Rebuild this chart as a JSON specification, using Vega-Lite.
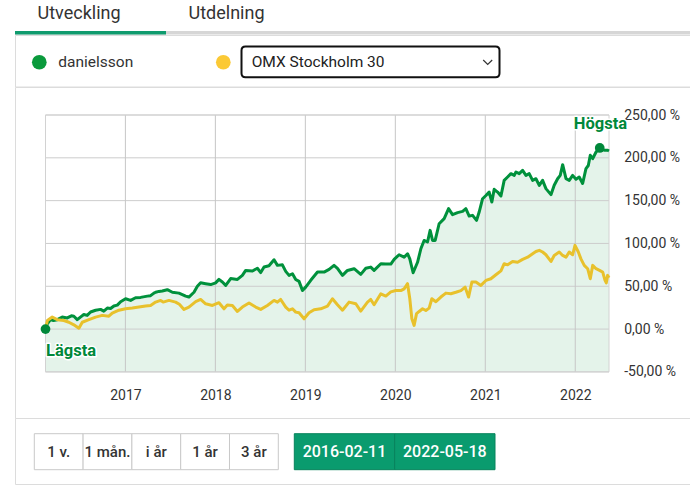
{
  "$schema": "https://vega.github.io/schema/vega-lite/v6.json",
  "padding": {"left": 14, "top": 0, "right": 0, "bottom": 0},
  "background": "white",
  "bounds": "flush",
  "spacing": 0,
  "config": {"view": {"stroke": null}, "font": "Roboto"},
  "datasets": {
    "tabs": [{"tab": "Utveckling", "active": true}, {"tab": "Utdelning", "active": false}],
    "series": [{"series": "danielsson"}, {"series": "OMX Stockholm 30"}],
    "buttons": [
      {"label": "1 v.", "group": "period"}, {"label": "1 mån.", "group": "period"}, {"label": "i år", "group": "period"},
      {"label": "1 år", "group": "period"}, {"label": "3 år", "group": "period"},
      {"label": "2016-02-11", "group": "range"}, {"label": "2022-05-18", "group": "range"}
    ],
    "markers": [{"year": 2016.112, "value": 0, "label": "Lägsta"}, {"year": 2022.272, "value": 211.5, "label": "Högsta"}],
    "ygrid": [{"value": -50}, {"value": 0}, {"value": 50}, {"value": 100}, {"value": 150}, {"value": 200}, {"value": 250}],
    "xgrid": [{"year": 2017}, {"year": 2018}, {"year": 2019}, {"year": 2020}, {"year": 2021}, {"year": 2022}],
    "perf": [
      {"series": "danielsson", "year": 2016.112, "value": 0},
      {"series": "danielsson", "year": 2016.13, "value": 6},
      {"series": "danielsson", "year": 2016.168, "value": 11},
      {"series": "danielsson", "year": 2016.2, "value": 10},
      {"series": "danielsson", "year": 2016.243, "value": 11},
      {"series": "danielsson", "year": 2016.298, "value": 14},
      {"series": "danielsson", "year": 2016.354, "value": 13},
      {"series": "danielsson", "year": 2016.4, "value": 15.5},
      {"series": "danielsson", "year": 2016.427, "value": 15},
      {"series": "danielsson", "year": 2016.465, "value": 11},
      {"series": "danielsson", "year": 2016.5, "value": 14},
      {"series": "danielsson", "year": 2016.538, "value": 17},
      {"series": "danielsson", "year": 2016.575, "value": 16},
      {"series": "danielsson", "year": 2016.613, "value": 20},
      {"series": "danielsson", "year": 2016.669, "value": 22},
      {"series": "danielsson", "year": 2016.724, "value": 23},
      {"series": "danielsson", "year": 2016.76, "value": 21},
      {"series": "danielsson", "year": 2016.799, "value": 24.5},
      {"series": "danielsson", "year": 2016.835, "value": 24},
      {"series": "danielsson", "year": 2016.872, "value": 27},
      {"series": "danielsson", "year": 2016.91, "value": 28},
      {"series": "danielsson", "year": 2016.947, "value": 32},
      {"series": "danielsson", "year": 2017.002, "value": 35.4},
      {"series": "danielsson", "year": 2017.058, "value": 33.5},
      {"series": "danielsson", "year": 2017.113, "value": 36.6},
      {"series": "danielsson", "year": 2017.169, "value": 37},
      {"series": "danielsson", "year": 2017.244, "value": 38.5},
      {"series": "danielsson", "year": 2017.28, "value": 39},
      {"series": "danielsson", "year": 2017.317, "value": 42},
      {"series": "danielsson", "year": 2017.336, "value": 43},
      {"series": "danielsson", "year": 2017.373, "value": 44},
      {"series": "danielsson", "year": 2017.41, "value": 44.4},
      {"series": "danielsson", "year": 2017.466, "value": 46},
      {"series": "danielsson", "year": 2017.522, "value": 43},
      {"series": "danielsson", "year": 2017.595, "value": 42},
      {"series": "danielsson", "year": 2017.67, "value": 38.5},
      {"series": "danielsson", "year": 2017.706, "value": 37.4},
      {"series": "danielsson", "year": 2017.762, "value": 43},
      {"series": "danielsson", "year": 2017.8, "value": 50},
      {"series": "danielsson", "year": 2017.836, "value": 54},
      {"series": "danielsson", "year": 2017.892, "value": 53},
      {"series": "danielsson", "year": 2017.948, "value": 52},
      {"series": "danielsson", "year": 2018.003, "value": 54},
      {"series": "danielsson", "year": 2018.04, "value": 58},
      {"series": "danielsson", "year": 2018.078, "value": 55},
      {"series": "danielsson", "year": 2018.115, "value": 51},
      {"series": "danielsson", "year": 2018.17, "value": 59},
      {"series": "danielsson", "year": 2018.245, "value": 58},
      {"series": "danielsson", "year": 2018.3, "value": 62.7},
      {"series": "danielsson", "year": 2018.337, "value": 68.5},
      {"series": "danielsson", "year": 2018.412, "value": 67.8},
      {"series": "danielsson", "year": 2018.467, "value": 71},
      {"series": "danielsson", "year": 2018.504, "value": 66},
      {"series": "danielsson", "year": 2018.541, "value": 72.5},
      {"series": "danielsson", "year": 2018.596, "value": 74},
      {"series": "danielsson", "year": 2018.652, "value": 81},
      {"series": "danielsson", "year": 2018.69, "value": 74.4},
      {"series": "danielsson", "year": 2018.745, "value": 75},
      {"series": "danielsson", "year": 2018.782, "value": 67.4},
      {"series": "danielsson", "year": 2018.819, "value": 62.7},
      {"series": "danielsson", "year": 2018.857, "value": 64.6},
      {"series": "danielsson", "year": 2018.893, "value": 58},
      {"series": "danielsson", "year": 2018.93, "value": 55.7},
      {"series": "danielsson", "year": 2018.968, "value": 45},
      {"series": "danielsson", "year": 2019.004, "value": 49},
      {"series": "danielsson", "year": 2019.06, "value": 57},
      {"series": "danielsson", "year": 2019.135, "value": 66.6},
      {"series": "danielsson", "year": 2019.208, "value": 66.6},
      {"series": "danielsson", "year": 2019.264, "value": 69.7},
      {"series": "danielsson", "year": 2019.319, "value": 74.4},
      {"series": "danielsson", "year": 2019.357, "value": 71},
      {"series": "danielsson", "year": 2019.413, "value": 62.7},
      {"series": "danielsson", "year": 2019.468, "value": 68.5},
      {"series": "danielsson", "year": 2019.542, "value": 70.5},
      {"series": "danielsson", "year": 2019.616, "value": 63.9},
      {"series": "danielsson", "year": 2019.672, "value": 71},
      {"series": "danielsson", "year": 2019.727, "value": 72.4},
      {"series": "danielsson", "year": 2019.764, "value": 68.5},
      {"series": "danielsson", "year": 2019.839, "value": 76.3},
      {"series": "danielsson", "year": 2019.894, "value": 76},
      {"series": "danielsson", "year": 2019.95, "value": 76},
      {"series": "danielsson", "year": 2019.987, "value": 81.4},
      {"series": "danielsson", "year": 2020.042, "value": 86.8},
      {"series": "danielsson", "year": 2020.098, "value": 84},
      {"series": "danielsson", "year": 2020.136, "value": 88},
      {"series": "danielsson", "year": 2020.161, "value": 82},
      {"series": "danielsson", "year": 2020.198, "value": 65.8},
      {"series": "danielsson", "year": 2020.247, "value": 78},
      {"series": "danielsson", "year": 2020.284, "value": 93.8},
      {"series": "danielsson", "year": 2020.32, "value": 103.5},
      {"series": "danielsson", "year": 2020.358, "value": 101.7},
      {"series": "danielsson", "year": 2020.387, "value": 115.3},
      {"series": "danielsson", "year": 2020.414, "value": 103.5},
      {"series": "danielsson", "year": 2020.443, "value": 103.5},
      {"series": "danielsson", "year": 2020.487, "value": 123},
      {"series": "danielsson", "year": 2020.543, "value": 129},
      {"series": "danielsson", "year": 2020.592, "value": 140.6},
      {"series": "danielsson", "year": 2020.636, "value": 133.6},
      {"series": "danielsson", "year": 2020.692, "value": 136},
      {"series": "danielsson", "year": 2020.748, "value": 137.5},
      {"series": "danielsson", "year": 2020.784, "value": 140.6},
      {"series": "danielsson", "year": 2020.821, "value": 132},
      {"series": "danielsson", "year": 2020.859, "value": 132.8},
      {"series": "danielsson", "year": 2020.903, "value": 127},
      {"series": "danielsson", "year": 2020.932, "value": 136.7},
      {"series": "danielsson", "year": 2020.97, "value": 152.2},
      {"series": "danielsson", "year": 2021.007, "value": 156},
      {"series": "danielsson", "year": 2021.043, "value": 160},
      {"series": "danielsson", "year": 2021.073, "value": 148.4},
      {"series": "danielsson", "year": 2021.099, "value": 163.2},
      {"series": "danielsson", "year": 2021.137, "value": 160},
      {"series": "danielsson", "year": 2021.174, "value": 155.4},
      {"series": "danielsson", "year": 2021.21, "value": 173.7},
      {"series": "danielsson", "year": 2021.248, "value": 177.6},
      {"series": "danielsson", "year": 2021.285, "value": 181.5},
      {"series": "danielsson", "year": 2021.322, "value": 179.5},
      {"series": "danielsson", "year": 2021.341, "value": 183.4},
      {"series": "danielsson", "year": 2021.377, "value": 181.5},
      {"series": "danielsson", "year": 2021.415, "value": 185.4},
      {"series": "danielsson", "year": 2021.452, "value": 179.5},
      {"series": "danielsson", "year": 2021.488, "value": 181.5},
      {"series": "danielsson", "year": 2021.526, "value": 173.7},
      {"series": "danielsson", "year": 2021.563, "value": 175.6},
      {"series": "danielsson", "year": 2021.6, "value": 167.8},
      {"series": "danielsson", "year": 2021.637, "value": 173.7},
      {"series": "danielsson", "year": 2021.674, "value": 164},
      {"series": "danielsson", "year": 2021.73, "value": 157},
      {"series": "danielsson", "year": 2021.766, "value": 168},
      {"series": "danielsson", "year": 2021.804, "value": 175.6},
      {"series": "danielsson", "year": 2021.833, "value": 179.5},
      {"series": "danielsson", "year": 2021.86, "value": 192},
      {"series": "danielsson", "year": 2021.897, "value": 175.6},
      {"series": "danielsson", "year": 2021.933, "value": 173.7},
      {"series": "danielsson", "year": 2021.971, "value": 179.5},
      {"series": "danielsson", "year": 2022.008, "value": 175},
      {"series": "danielsson", "year": 2022.044, "value": 177.6},
      {"series": "danielsson", "year": 2022.082, "value": 170},
      {"series": "danielsson", "year": 2022.119, "value": 187.4},
      {"series": "danielsson", "year": 2022.145, "value": 191},
      {"series": "danielsson", "year": 2022.167, "value": 203},
      {"series": "danielsson", "year": 2022.194, "value": 199},
      {"series": "danielsson", "year": 2022.231, "value": 206.8},
      {"series": "danielsson", "year": 2022.272, "value": 211.5},
      {"series": "danielsson", "year": 2022.323, "value": 208.8},
      {"series": "danielsson", "year": 2022.361, "value": 208.8},
      {"series": "danielsson", "year": 2022.375, "value": 208},
      {"series": "OMX Stockholm 30", "year": 2016.112, "value": 0},
      {"series": "OMX Stockholm 30", "year": 2016.133, "value": 10},
      {"series": "OMX Stockholm 30", "year": 2016.187, "value": 14},
      {"series": "OMX Stockholm 30", "year": 2016.243, "value": 11},
      {"series": "OMX Stockholm 30", "year": 2016.316, "value": 10},
      {"series": "OMX Stockholm 30", "year": 2016.372, "value": 8},
      {"series": "OMX Stockholm 30", "year": 2016.427, "value": 5},
      {"series": "OMX Stockholm 30", "year": 2016.483, "value": 1},
      {"series": "OMX Stockholm 30", "year": 2016.521, "value": 8},
      {"series": "OMX Stockholm 30", "year": 2016.594, "value": 11},
      {"series": "OMX Stockholm 30", "year": 2016.669, "value": 14},
      {"series": "OMX Stockholm 30", "year": 2016.743, "value": 16},
      {"series": "OMX Stockholm 30", "year": 2016.816, "value": 15},
      {"series": "OMX Stockholm 30", "year": 2016.854, "value": 18.6},
      {"series": "OMX Stockholm 30", "year": 2016.928, "value": 22},
      {"series": "OMX Stockholm 30", "year": 2017.002, "value": 23.7},
      {"series": "OMX Stockholm 30", "year": 2017.077, "value": 24.5},
      {"series": "OMX Stockholm 30", "year": 2017.15, "value": 25.7},
      {"series": "OMX Stockholm 30", "year": 2017.225, "value": 27},
      {"series": "OMX Stockholm 30", "year": 2017.28, "value": 27.6},
      {"series": "OMX Stockholm 30", "year": 2017.336, "value": 31.5},
      {"series": "OMX Stockholm 30", "year": 2017.392, "value": 33.5},
      {"series": "OMX Stockholm 30", "year": 2017.42, "value": 31.5},
      {"series": "OMX Stockholm 30", "year": 2017.484, "value": 33.5},
      {"series": "OMX Stockholm 30", "year": 2017.558, "value": 31.5},
      {"series": "OMX Stockholm 30", "year": 2017.6, "value": 29},
      {"series": "OMX Stockholm 30", "year": 2017.651, "value": 23},
      {"series": "OMX Stockholm 30", "year": 2017.706, "value": 25.7},
      {"series": "OMX Stockholm 30", "year": 2017.781, "value": 32},
      {"series": "OMX Stockholm 30", "year": 2017.836, "value": 34.6},
      {"series": "OMX Stockholm 30", "year": 2017.892, "value": 29.5},
      {"series": "OMX Stockholm 30", "year": 2017.967, "value": 27.6},
      {"series": "OMX Stockholm 30", "year": 2018.04, "value": 30.8},
      {"series": "OMX Stockholm 30", "year": 2018.096, "value": 23.7},
      {"series": "OMX Stockholm 30", "year": 2018.133, "value": 28},
      {"series": "OMX Stockholm 30", "year": 2018.189, "value": 27.6},
      {"series": "OMX Stockholm 30", "year": 2018.245, "value": 20.6},
      {"series": "OMX Stockholm 30", "year": 2018.3, "value": 25.7},
      {"series": "OMX Stockholm 30", "year": 2018.374, "value": 30.4},
      {"series": "OMX Stockholm 30", "year": 2018.448, "value": 25.7},
      {"series": "OMX Stockholm 30", "year": 2018.504, "value": 23},
      {"series": "OMX Stockholm 30", "year": 2018.578, "value": 27.6},
      {"series": "OMX Stockholm 30", "year": 2018.652, "value": 33.5},
      {"series": "OMX Stockholm 30", "year": 2018.69, "value": 31.5},
      {"series": "OMX Stockholm 30", "year": 2018.726, "value": 34.6},
      {"series": "OMX Stockholm 30", "year": 2018.782, "value": 25.7},
      {"series": "OMX Stockholm 30", "year": 2018.819, "value": 22},
      {"series": "OMX Stockholm 30", "year": 2018.857, "value": 23.7},
      {"series": "OMX Stockholm 30", "year": 2018.893, "value": 19.8},
      {"series": "OMX Stockholm 30", "year": 2018.93, "value": 19},
      {"series": "OMX Stockholm 30", "year": 2018.986, "value": 12},
      {"series": "OMX Stockholm 30", "year": 2019.041, "value": 19},
      {"series": "OMX Stockholm 30", "year": 2019.097, "value": 22.6},
      {"series": "OMX Stockholm 30", "year": 2019.171, "value": 23.7},
      {"series": "OMX Stockholm 30", "year": 2019.246, "value": 26.8},
      {"series": "OMX Stockholm 30", "year": 2019.301, "value": 35.4},
      {"series": "OMX Stockholm 30", "year": 2019.357, "value": 28.4},
      {"series": "OMX Stockholm 30", "year": 2019.413, "value": 22},
      {"series": "OMX Stockholm 30", "year": 2019.486, "value": 31.5},
      {"series": "OMX Stockholm 30", "year": 2019.561, "value": 29.6},
      {"series": "OMX Stockholm 30", "year": 2019.616, "value": 21},
      {"series": "OMX Stockholm 30", "year": 2019.691, "value": 31.5},
      {"series": "OMX Stockholm 30", "year": 2019.727, "value": 34.6},
      {"series": "OMX Stockholm 30", "year": 2019.764, "value": 28.4},
      {"series": "OMX Stockholm 30", "year": 2019.839, "value": 41.2},
      {"series": "OMX Stockholm 30", "year": 2019.894, "value": 38.6},
      {"series": "OMX Stockholm 30", "year": 2019.95, "value": 43.5},
      {"series": "OMX Stockholm 30", "year": 2020.006, "value": 45},
      {"series": "OMX Stockholm 30", "year": 2020.061, "value": 45},
      {"series": "OMX Stockholm 30", "year": 2020.098, "value": 47},
      {"series": "OMX Stockholm 30", "year": 2020.136, "value": 53},
      {"series": "OMX Stockholm 30", "year": 2020.161, "value": 35.4},
      {"series": "OMX Stockholm 30", "year": 2020.184, "value": 12},
      {"series": "OMX Stockholm 30", "year": 2020.209, "value": 4.3},
      {"series": "OMX Stockholm 30", "year": 2020.236, "value": 18},
      {"series": "OMX Stockholm 30", "year": 2020.265, "value": 20.6},
      {"series": "OMX Stockholm 30", "year": 2020.303, "value": 23.7},
      {"series": "OMX Stockholm 30", "year": 2020.339, "value": 21.7},
      {"series": "OMX Stockholm 30", "year": 2020.376, "value": 24.5},
      {"series": "OMX Stockholm 30", "year": 2020.406, "value": 35.4},
      {"series": "OMX Stockholm 30", "year": 2020.451, "value": 32},
      {"series": "OMX Stockholm 30", "year": 2020.506, "value": 37.4},
      {"series": "OMX Stockholm 30", "year": 2020.562, "value": 42},
      {"series": "OMX Stockholm 30", "year": 2020.617, "value": 41.3},
      {"series": "OMX Stockholm 30", "year": 2020.673, "value": 43},
      {"series": "OMX Stockholm 30", "year": 2020.729, "value": 45},
      {"series": "OMX Stockholm 30", "year": 2020.776, "value": 49},
      {"series": "OMX Stockholm 30", "year": 2020.814, "value": 37.4},
      {"series": "OMX Stockholm 30", "year": 2020.851, "value": 55},
      {"series": "OMX Stockholm 30", "year": 2020.896, "value": 55},
      {"series": "OMX Stockholm 30", "year": 2020.951, "value": 51},
      {"series": "OMX Stockholm 30", "year": 2021.007, "value": 56.8},
      {"series": "OMX Stockholm 30", "year": 2021.062, "value": 58.8},
      {"series": "OMX Stockholm 30", "year": 2021.118, "value": 63.5},
      {"series": "OMX Stockholm 30", "year": 2021.174, "value": 68},
      {"series": "OMX Stockholm 30", "year": 2021.21, "value": 76.3},
      {"series": "OMX Stockholm 30", "year": 2021.248, "value": 75},
      {"series": "OMX Stockholm 30", "year": 2021.304, "value": 79},
      {"series": "OMX Stockholm 30", "year": 2021.359, "value": 78},
      {"series": "OMX Stockholm 30", "year": 2021.415, "value": 81.4},
      {"series": "OMX Stockholm 30", "year": 2021.471, "value": 84},
      {"series": "OMX Stockholm 30", "year": 2021.526, "value": 88},
      {"series": "OMX Stockholm 30", "year": 2021.563, "value": 90.6},
      {"series": "OMX Stockholm 30", "year": 2021.6, "value": 92},
      {"series": "OMX Stockholm 30", "year": 2021.637, "value": 90},
      {"series": "OMX Stockholm 30", "year": 2021.674, "value": 86.8},
      {"series": "OMX Stockholm 30", "year": 2021.73, "value": 79},
      {"series": "OMX Stockholm 30", "year": 2021.766, "value": 86},
      {"series": "OMX Stockholm 30", "year": 2021.822, "value": 90},
      {"series": "OMX Stockholm 30", "year": 2021.86, "value": 86},
      {"series": "OMX Stockholm 30", "year": 2021.897, "value": 84},
      {"series": "OMX Stockholm 30", "year": 2021.933, "value": 90},
      {"series": "OMX Stockholm 30", "year": 2021.971, "value": 86.8},
      {"series": "OMX Stockholm 30", "year": 2021.997, "value": 97.8},
      {"series": "OMX Stockholm 30", "year": 2022.034, "value": 90},
      {"series": "OMX Stockholm 30", "year": 2022.063, "value": 82},
      {"series": "OMX Stockholm 30", "year": 2022.1, "value": 74.4},
      {"series": "OMX Stockholm 30", "year": 2022.138, "value": 70.5},
      {"series": "OMX Stockholm 30", "year": 2022.167, "value": 58.8},
      {"series": "OMX Stockholm 30", "year": 2022.194, "value": 74.4},
      {"series": "OMX Stockholm 30", "year": 2022.231, "value": 70.5},
      {"series": "OMX Stockholm 30", "year": 2022.27, "value": 68.5},
      {"series": "OMX Stockholm 30", "year": 2022.305, "value": 66.6},
      {"series": "OMX Stockholm 30", "year": 2022.331, "value": 57},
      {"series": "OMX Stockholm 30", "year": 2022.345, "value": 54},
      {"series": "OMX Stockholm 30", "year": 2022.36, "value": 62.7},
      {"series": "OMX Stockholm 30", "year": 2022.375, "value": 60}
    ]
  },
  "vconcat": [
    {
      "width": 676,
      "height": 31,
      "data": {"name": "tabs"},
      "mark": {"type": "text", "align": "left", "baseline": "middle", "dx": 22.5, "yOffset": -2, "fontSize": 18, "color": "#333333"},
      "encoding": {
        "x": {"field": "tab", "type": "nominal", "bandPosition": 0, "scale": {"type": "band", "domain": ["Utveckling", "Utdelning"], "range": [0, 302], "paddingInner": 0, "paddingOuter": 0}, "axis": null},
        "text": {"field": "tab"}
      }
    },
    {
      "width": 676,
      "height": 3.5,
      "view": {"fill": "#d6d6d6", "stroke": null},
      "data": {"name": "tabs"},
      "transform": [{"filter": "datum.active"}],
      "mark": {"type": "rect", "color": "#0f9b6e"},
      "encoding": {
        "x": {"field": "tab", "type": "nominal", "scale": {"type": "band", "domain": ["Utveckling", "Utdelning"], "range": [0, 302], "paddingInner": 0, "paddingOuter": 0}, "axis": null}
      }
    },
    {
      "width": 676,
      "height": 51.5,
      "view": {"stroke": "#dcdcdc"},
      "data": {"name": "series"},
      "encoding": {
        "x": {"field": "series", "type": "nominal", "scale": {"type": "point", "domain": ["danielsson", "OMX Stockholm 30"], "range": [24.3, 208.3], "padding": 0}, "axis": null}
      },
      "layer": [
        {
          "mark": {"type": "circle", "size": 215, "opacity": 1, "yOffset": 1.5},
          "encoding": {"color": {"field": "series", "type": "nominal", "scale": {"domain": ["danielsson", "OMX Stockholm 30"], "range": ["#0a9a3c", "#fbc935"]}, "legend": null}}
        },
        {
          "transform": [{"filter": "datum.series === 'danielsson'"}],
          "mark": {"type": "text", "align": "left", "baseline": "middle", "dx": 19, "yOffset": 1.5, "fontSize": 15.5, "color": "#333333"},
          "encoding": {"text": {"field": "series"}}
        },
        {
          "transform": [{"filter": "datum.series !== 'danielsson'"}],
          "mark": {"type": "point", "shape": "M -0.969 -0.119 L 0.969 -0.119 Q 1 -0.119 1 -0.088 L 1 0.088 Q 1 0.119 0.969 0.119 L -0.969 0.119 Q -1 0.119 -1 0.088 L -1 -0.088 Q -1 -0.119 -0.969 -0.119 Z", "size": 66564, "filled": false, "stroke": "#111111", "strokeWidth": 2, "opacity": 1, "xOffset": 147.2, "yOffset": 1.1}
        },
        {
          "transform": [{"filter": "datum.series !== 'danielsson'"}],
          "mark": {"type": "text", "align": "left", "baseline": "middle", "dx": 28.4, "yOffset": 1.5, "fontSize": 15.5, "color": "#222222"},
          "encoding": {"text": {"field": "series"}}
        },
        {
          "transform": [{"filter": "datum.series !== 'danielsson'"}],
          "mark": {"type": "point", "shape": "M -1 -0.5 L 0 0.5 L 1 -0.5", "size": 81, "filled": false, "stroke": "#333333", "strokeWidth": 1.2, "opacity": 1, "xOffset": 264.4, "yOffset": 1.5}
        }
      ]
    },
    {
      "width": 676,
      "height": 331,
      "view": {"stroke": "#dcdcdc"},
      "layer": [
        {
          "data": {"name": "perf"},
          "transform": [{"filter": "datum.series === 'danielsson'"}],
          "mark": {"type": "area", "color": "#e4f3ea", "opacity": 1},
          "encoding": {
            "x": {"field": "year", "type": "quantitative", "scale": {"domain": [2016.112, 2022.375], "range": [30.5, 594], "nice": false, "zero": false},
              "axis": {"orient": "bottom", "offset": -46, "values": [2017, 2018, 2019, 2020, 2021, 2022], "format": "d", "labelPadding": 16.5, "labelFontSize": 14, "labelColor": "#333333", "labelFlush": false, "labelOverlap": false, "domain": false, "ticks": false, "grid": false, "title": null}},
            "y": {"field": "value", "type": "quantitative", "scale": {"domain": [-50, 250], "range": [284.9, 28], "nice": false, "zero": false},
              "axis": {"orient": "right", "offset": -82, "values": [-50, 0, 50, 100, 150, 200, 250], "labelExpr": "replace(replace(format(datum.value, '.2f'), '.', ','), '\u2212', '-') + ' %'", "labelPadding": 14.7, "labelFontSize": 14, "labelColor": "#333333", "labelBaseline": "middle", "labelOverlap": false, "domain": false, "ticks": false, "grid": false, "title": null}},
            "y2": {"datum": -50}
          }
        },
        {
          "data": {"name": "ygrid"},
          "mark": {"type": "rule", "color": "#cdcdcd", "strokeWidth": 1},
          "encoding": {
            "y": {"field": "value", "type": "quantitative"},
            "x": {"datum": 2016.112, "type": "quantitative"},
            "x2": {"datum": 2022.375}
          }
        },
        {
          "data": {"name": "xgrid"},
          "mark": {"type": "rule", "color": "#c6c6c6", "strokeWidth": 1},
          "encoding": {
            "x": {"field": "year", "type": "quantitative"},
            "y": {"datum": -50, "type": "quantitative"},
            "y2": {"datum": 250}
          }
        },
        {
          "data": {"values": [{}]},
          "mark": {"type": "rect", "filled": false, "stroke": "#d2d2d2", "strokeWidth": 1},
          "encoding": {
            "x": {"datum": 2016.112, "type": "quantitative"},
            "x2": {"datum": 2022.375},
            "y": {"datum": -50, "type": "quantitative"},
            "y2": {"datum": 250}
          }
        },
        {
          "data": {"name": "perf"},
          "transform": [{"filter": "datum.series === 'danielsson'"}],
          "mark": {"type": "line", "color": "#00913c", "strokeWidth": 3, "strokeJoin": "round"},
          "encoding": {
            "x": {"field": "year", "type": "quantitative"},
            "y": {"field": "value", "type": "quantitative"}
          }
        },
        {
          "data": {"name": "perf"},
          "transform": [{"filter": "datum.series !== 'danielsson'"}],
          "mark": {"type": "line", "color": "#e8c12c", "strokeWidth": 3, "strokeJoin": "round"},
          "encoding": {
            "x": {"field": "year", "type": "quantitative"},
            "y": {"field": "value", "type": "quantitative"}
          }
        },
        {
          "data": {"name": "markers"},
          "mark": {"type": "circle", "size": 95, "color": "#00883a", "opacity": 1},
          "encoding": {
            "x": {"field": "year", "type": "quantitative"},
            "y": {"field": "value", "type": "quantitative"}
          }
        },
        {
          "data": {"name": "markers"},
          "transform": [{"filter": "datum.label === 'Lägsta'"}],
          "mark": {"type": "text", "align": "left", "baseline": "middle", "dx": 0.5, "dy": 21.5, "fontSize": 16.5, "fontWeight": "bold", "color": "#00883a", "stroke": "white", "strokeWidth": 3, "strokeJoin": "round"},
          "encoding": {
            "x": {"field": "year", "type": "quantitative"},
            "y": {"field": "value", "type": "quantitative"},
            "text": {"field": "label"}
          }
        },
        {
          "data": {"name": "markers"},
          "transform": [{"filter": "datum.label === 'Lägsta'"}],
          "mark": {"type": "text", "align": "left", "baseline": "middle", "dx": 0.5, "dy": 21.5, "fontSize": 16.5, "fontWeight": "bold", "color": "#00883a"},
          "encoding": {
            "x": {"field": "year", "type": "quantitative"},
            "y": {"field": "value", "type": "quantitative"},
            "text": {"field": "label"}
          }
        },
        {
          "data": {"name": "markers"},
          "transform": [{"filter": "datum.label === 'Högsta'"}],
          "mark": {"type": "text", "align": "center", "baseline": "middle", "dx": 0.7, "dy": -24, "fontSize": 16.5, "fontWeight": "bold", "color": "#00883a", "stroke": "white", "strokeWidth": 3, "strokeJoin": "round"},
          "encoding": {
            "x": {"field": "year", "type": "quantitative"},
            "y": {"field": "value", "type": "quantitative"},
            "text": {"field": "label"}
          }
        },
        {
          "data": {"name": "markers"},
          "transform": [{"filter": "datum.label === 'Högsta'"}],
          "mark": {"type": "text", "align": "center", "baseline": "middle", "dx": 0.7, "dy": -24, "fontSize": 16.5, "fontWeight": "bold", "color": "#00883a"},
          "encoding": {
            "x": {"field": "year", "type": "quantitative"},
            "y": {"field": "value", "type": "quantitative"},
            "text": {"field": "label"}
          }
        }
      ]
    },
    {
      "width": 676,
      "height": 66,
      "view": {"stroke": "#dcdcdc"},
      "data": {"name": "buttons"},
      "encoding": {
        "y": {"datum": "row", "type": "nominal", "scale": {"type": "band", "domain": ["row"], "range": [15.7, 51.7], "paddingInner": 0, "paddingOuter": 0}, "axis": null}
      },
      "layer": [
        {
          "transform": [{"filter": "datum.group === 'period'"}],
          "mark": {"type": "rect", "fill": "white", "stroke": "#c9c9c9", "strokeWidth": 1},
          "encoding": {"x": {"field": "label", "type": "nominal", "scale": {"type": "band", "domain": ["1 v.", "1 mån.", "i år", "1 år", "3 år"], "range": [19.3, 263.3], "paddingInner": 0, "paddingOuter": 0}, "axis": null}}
        },
        {
          "transform": [{"filter": "datum.group === 'period'"}],
          "mark": {"type": "text", "baseline": "middle", "fontSize": 15, "fontWeight": 500, "color": "#333333"},
          "encoding": {
            "x": {"field": "label", "type": "nominal", "scale": {"type": "band", "domain": ["1 v.", "1 mån.", "i år", "1 år", "3 år"], "range": [19.3, 263.3], "paddingInner": 0, "paddingOuter": 0}, "axis": null},
            "text": {"field": "label"}
          }
        },
        {
          "transform": [{"filter": "datum.group === 'range'"}],
          "mark": {"type": "rect", "fill": "#0a9b6e", "stroke": "#07835c", "strokeWidth": 1},
          "encoding": {"x": {"field": "label", "type": "nominal", "scale": {"type": "band", "domain": ["2016-02-11", "2022-05-18"], "range": [279.3, 480], "paddingInner": 0, "paddingOuter": 0}, "axis": null}}
        },
        {
          "transform": [{"filter": "datum.group === 'range'"}],
          "mark": {"type": "text", "baseline": "middle", "fontSize": 16, "fontWeight": 500, "color": "white"},
          "encoding": {
            "x": {"field": "label", "type": "nominal", "scale": {"type": "band", "domain": ["2016-02-11", "2022-05-18"], "range": [279.3, 480], "paddingInner": 0, "paddingOuter": 0}, "axis": null},
            "text": {"field": "label"}
          }
        }
      ],
      "resolve": {"scale": {"x": "independent"}}
    }
  ]
}
